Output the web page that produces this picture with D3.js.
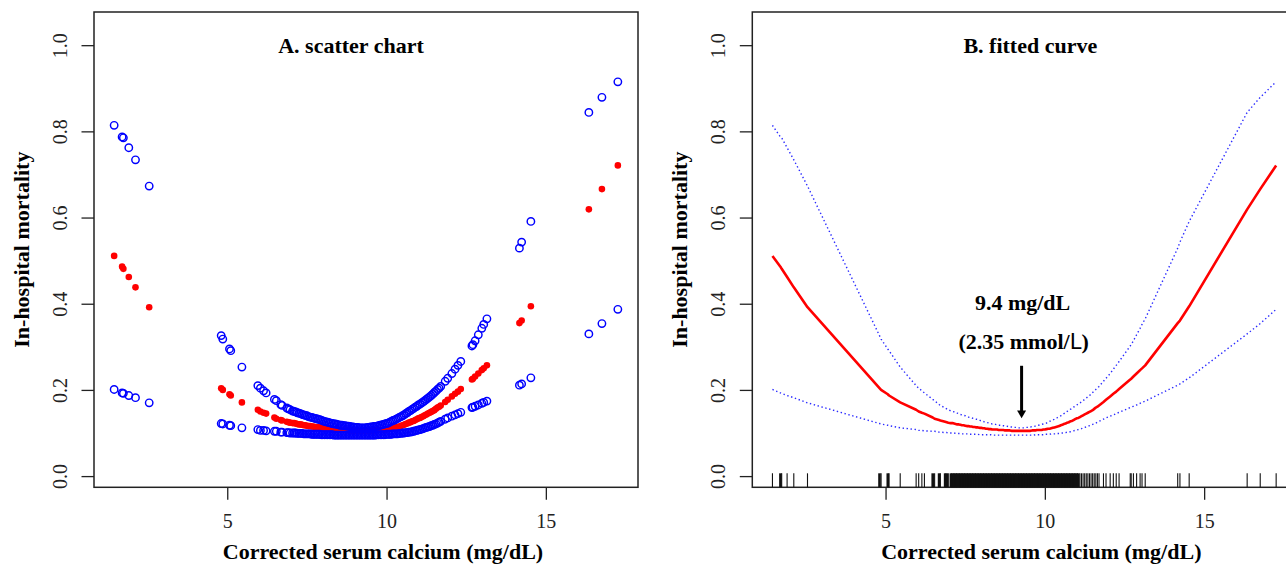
<!DOCTYPE html>
<html>
<head>
<meta charset="utf-8">
<script src="https://cdn.jsdelivr.net/npm/d3@7/dist/d3.min.js"></script>
<style>
body { margin: 0; background: #ffffff; }
svg { display: block; font-family: "Liberation Serif", "Times New Roman", serif; }
</style>
</head>
<body>
<script>

// corrected serum calcium values (mg/dL), one per patient group
// corrected serum calcium values (mg/dL), one per patient group

var calcium = [
    1.45, 1.70, 1.74, 1.91, 2.12, 2.55,
    4.81, 4.86, 5.07, 5.11, 5.46,
    5.96, 6.04, 6.14, 6.22, 6.48, 6.54, 6.68, 6.72, 6.87, 6.92, 6.97, 7.05,
    7.10, 7.15, 7.20, 7.25, 7.30, 7.35, 7.40, 7.45, 7.50, 7.55,
    7.60, 7.65, 7.70, 7.75, 7.80, 7.85, 7.90, 7.95, 8.00, 8.05,
    8.10, 8.15, 8.20, 8.25, 8.30, 8.35, 8.40, 8.45, 8.50, 8.55,
    8.60, 8.65, 8.70, 8.75, 8.80, 8.85, 8.90, 8.95, 9.00, 9.05,
    9.10, 9.15, 9.20, 9.25, 9.30, 9.35, 9.40, 9.45, 9.50, 9.55,
    9.60, 9.65, 9.70, 9.75, 9.80, 9.85, 9.90, 9.95, 10.00, 10.05,
    10.10, 10.15, 10.20, 10.25, 10.30, 10.35, 10.40, 10.45, 10.50, 10.55,
    10.60, 10.65, 10.70, 10.75, 10.80, 10.85, 10.90, 10.95, 11.00, 11.05,
    11.10, 11.15, 11.20, 11.25, 11.30, 11.35, 11.40, 11.45, 11.50, 11.55,
    11.60, 11.65, 11.70,
    11.84, 11.92, 12.05, 12.15, 12.24, 12.33,
    12.68, 12.71, 12.78, 12.88, 12.99, 13.05, 13.15,
    14.17, 14.24, 14.53, 16.35, 16.76, 17.26
];

// predicted in-hospital mortality and its 95% limits
// predicted in-hospital mortality and its 95% limits

var fitted = [
    0.511, 0.486, 0.481, 0.462, 0.438, 0.392,
    0.204, 0.200, 0.190, 0.187, 0.171,
    0.154, 0.150, 0.147, 0.145, 0.136, 0.133, 0.130, 0.129, 0.126, 0.125, 0.124, 0.123,
    0.123, 0.122, 0.121, 0.120, 0.120, 0.119, 0.118, 0.118, 0.117, 0.116,
    0.116, 0.115, 0.115, 0.114, 0.114, 0.113, 0.113, 0.112, 0.112, 0.111,
    0.111, 0.110, 0.110, 0.109, 0.109, 0.108, 0.108, 0.108, 0.108, 0.107,
    0.107, 0.107, 0.107, 0.106, 0.106, 0.106, 0.106, 0.105, 0.105, 0.105,
    0.105, 0.105, 0.105, 0.105, 0.105, 0.105, 0.105, 0.105, 0.105, 0.105,
    0.106, 0.106, 0.106, 0.107, 0.107, 0.107, 0.107, 0.108, 0.108, 0.109,
    0.110, 0.110, 0.111, 0.112, 0.113, 0.114, 0.115, 0.116, 0.118, 0.119,
    0.121, 0.122, 0.124, 0.125, 0.127, 0.128, 0.130, 0.132, 0.134, 0.135,
    0.137, 0.139, 0.141, 0.143, 0.145, 0.147, 0.149, 0.151, 0.153, 0.156,
    0.159, 0.161, 0.164,
    0.172, 0.177, 0.185, 0.191, 0.196, 0.202,
    0.224, 0.226, 0.231, 0.238, 0.246, 0.250, 0.257,
    0.355, 0.361, 0.394, 0.619, 0.666, 0.721
];

var lower = [
    0.201, 0.193, 0.192, 0.187, 0.182, 0.170,
    0.122, 0.121, 0.118, 0.117, 0.112,
    0.108, 0.106, 0.106, 0.105, 0.104, 0.104, 0.102, 0.102, 0.101, 0.101, 0.100, 0.100,
    0.100, 0.100, 0.099, 0.099, 0.099, 0.099, 0.098, 0.098, 0.098, 0.098,
    0.098, 0.097, 0.097, 0.097, 0.097, 0.097, 0.097, 0.096, 0.096, 0.096,
    0.096, 0.096, 0.096, 0.096, 0.096, 0.095, 0.095, 0.095, 0.095, 0.095,
    0.095, 0.095, 0.095, 0.095, 0.095, 0.095, 0.095, 0.095, 0.095, 0.095,
    0.095, 0.095, 0.095, 0.095, 0.095, 0.095, 0.095, 0.095, 0.095, 0.095,
    0.095, 0.095, 0.096, 0.096, 0.096, 0.096, 0.096, 0.096, 0.097, 0.097,
    0.097, 0.097, 0.098, 0.098, 0.098, 0.098, 0.099, 0.099, 0.100, 0.100,
    0.101, 0.101, 0.102, 0.102, 0.103, 0.104, 0.105, 0.106, 0.107, 0.108,
    0.109, 0.110, 0.112, 0.113, 0.114, 0.115, 0.117, 0.118, 0.120, 0.121,
    0.123, 0.125, 0.127,
    0.132, 0.135, 0.139, 0.142, 0.145, 0.148,
    0.159, 0.160, 0.162, 0.165, 0.169, 0.171, 0.174,
    0.211, 0.214, 0.228, 0.330, 0.354, 0.387
];

var upper = [
    0.814, 0.787, 0.785, 0.762, 0.734, 0.673,
    0.326, 0.318, 0.295, 0.291, 0.253,
    0.210, 0.204, 0.198, 0.193, 0.178, 0.175, 0.166, 0.164, 0.158, 0.156, 0.154, 0.151,
    0.150, 0.149, 0.147, 0.146, 0.145, 0.143, 0.142, 0.141, 0.140, 0.138,
    0.137, 0.136, 0.135, 0.134, 0.133, 0.132, 0.131, 0.130, 0.128, 0.127,
    0.126, 0.125, 0.124, 0.123, 0.122, 0.121, 0.121, 0.120, 0.119, 0.118,
    0.118, 0.117, 0.117, 0.116, 0.116, 0.115, 0.114, 0.114, 0.113, 0.113,
    0.113, 0.112, 0.112, 0.112, 0.112, 0.112, 0.113, 0.113, 0.114, 0.114,
    0.115, 0.115, 0.116, 0.117, 0.118, 0.119, 0.120, 0.121, 0.122, 0.123,
    0.125, 0.127, 0.129, 0.130, 0.132, 0.134, 0.136, 0.138, 0.140, 0.142,
    0.145, 0.147, 0.150, 0.152, 0.155, 0.157, 0.160, 0.162, 0.165, 0.167,
    0.170, 0.172, 0.175, 0.178, 0.181, 0.184, 0.187, 0.190, 0.194, 0.197,
    0.201, 0.204, 0.208,
    0.220, 0.227, 0.238, 0.248, 0.257, 0.266,
    0.302, 0.305, 0.314, 0.328, 0.343, 0.352, 0.365,
    0.529, 0.543, 0.591, 0.844, 0.879, 0.915
];

var xTicks = [5, 10, 15];
var yTicks = [0, 0.2, 0.4, 0.6, 0.8, 1.0];

var xLabel = "Corrected serum calcium (mg/dL)",
    yLabel = "In-hospital mortality",
    titleA = "A. scatter chart",
    titleB = "B. fitted curve";

// turning point marked on the fitted curve
var turnX = 9.27, turnLabel = "9.4 mg/dL", turnLabel2 = "(2.35 mmol/";

// layout
// layout

var margin = {top: 12, left: 94},
    width = 544,
    height = 475.3,
    panelShift = 658.3;

var svg = d3.select("body").append("svg")
    .attr("width", 1286)
    .attr("height", 570);

var rows = calcium.map(function(c, i) {
    return {x: c, fit: fitted[i], lo: lower[i], hi: upper[i]};
});

// R style axis range: data range stretched by 4% on each side
var ext = d3.extent(calcium), pad = (ext[1] - ext[0]) * 0.04;

var x = d3.scaleLinear()
    .domain([ext[0] - pad, ext[1] + pad])
    .range([0, width]);
var y = d3.scaleLinear()
    .domain([-0.026, 1.077])
    .range([height, 0]);

function drawFrame(g, title, titleX)
{
    // x axis
    var xa = g.append("g")
        .attr("transform", "translate(0," + height + ")")
        .call(d3.axisBottom(x).tickValues(xTicks).tickSize(12.5).tickFormat(d3.format("d")));
    xa.select(".domain").remove();
    xa.attr("font-family", null).attr("font-size", null);
    xa.selectAll("line").attr("stroke", "#222").attr("stroke-width", 1.3);
    xa.selectAll("text")
        .attr("y", 40.5)
        .attr("dy", 0)
        .attr("fill", "#222")
        .style("font-size", "20px");

    // y axis, labels turned along the axis
    var ya = g.append("g")
        .call(d3.axisLeft(y).tickValues(yTicks).tickSize(12.5).tickFormat(d3.format(".1f")));
    ya.select(".domain").remove();
    ya.attr("font-family", null).attr("font-size", null);
    ya.selectAll("line").attr("stroke", "#222").attr("stroke-width", 1.3);
    ya.selectAll("text")
        .attr("x", 0)
        .attr("dy", 0)
        .attr("transform", "translate(-27.5,0) rotate(-90)")
        .attr("text-anchor", "middle")
        .attr("fill", "#222")
        .style("font-size", "20px");

    // box
    g.append("rect")
        .attr("width", width)
        .attr("height", height)
        .attr("fill", "none")
        .attr("stroke", "#222")
        .attr("stroke-width", 1.5);

    g.append("text")
        .attr("x", 289)
        .attr("y", height + 72)
        .attr("text-anchor", "middle")
        .style("font-size", "22px")
        .style("font-weight", "bold")
        .text(xLabel);

    g.append("text")
        .attr("transform", "translate(-65," + (height / 2) + ") rotate(-90)")
        .attr("text-anchor", "middle")
        .style("font-size", "22px")
        .style("font-weight", "bold")
        .text(yLabel);

    g.append("text")
        .attr("x", titleX)
        .attr("y", 41)
        .attr("text-anchor", "middle")
        .style("font-size", "22px")
        .style("font-weight", "bold")
        .text(title);
}

// PANEL A: scatter of predicted values
// PANEL A: scatter of predicted values

var gA = svg.append("g")
    .attr("transform", "translate(" + margin.left + "," + margin.top + ")");

drawFrame(gA, titleA, 257);

gA.selectAll("circle.fit")
    .data(rows)
    .enter().append("circle")
    .attr("class", "fit")
    .attr("cx", function(d) { return x(d.x); })
    .attr("cy", function(d) { return y(d.fit); })
    .attr("r", 3.3)
    .attr("fill", "#ff0000");

["hi", "lo"].forEach(function(key)
{
    gA.selectAll("circle." + key)
        .data(rows)
        .enter().append("circle")
        .attr("class", key)
        .attr("cx", function(d) { return x(d.x); })
        .attr("cy", function(d) { return y(d[key]); })
        .attr("r", 3.7)
        .attr("fill", "none")
        .attr("stroke", "#0000ff")
        .attr("stroke-width", 1.45);
});

// PANEL B: fitted curve with limits and rug
// PANEL B: fitted curve with limits and rug

var gB = svg.append("g")
    .attr("transform", "translate(" + (margin.left + panelShift) + "," + margin.top + ")");

drawFrame(gB, titleB, 278);

// ticks that sit close together are widened so the crowded part reads as solid
gB.selectAll("line.rug")
    .data(calcium)
    .enter().append("line")
    .attr("class", "rug")
    .attr("x1", function(d) { return x(d); })
    .attr("x2", function(d) { return x(d); })
    .attr("y1", height)
    .attr("y2", height - 14)
    .attr("stroke", "#111")
    .attr("stroke-width", function(d, i) {
        var next = calcium[i + 1];
        return (next !== undefined && next - d < 0.06 && d < 11.1) ? 2.6 : 1.1;
    });

function curve(key)
{
    return d3.line()
        .x(function(d) { return x(d.x); })
        .y(function(d) { return y(d[key]); });
}

["hi", "lo"].forEach(function(key)
{
    gB.append("path")
        .datum(rows)
        .attr("d", curve(key))
        .attr("fill", "none")
        .attr("stroke", "#2a2aff")
        .attr("stroke-width", 1.4)
        .attr("stroke-dasharray", "1.4,2.6");
});

gB.append("path")
    .datum(rows)
    .attr("d", curve("fit"))
    .attr("fill", "none")
    .attr("stroke", "#ff0000")
    .attr("stroke-width", 2.6)
    .attr("stroke-linejoin", "round");

// annotation with arrow at the lowest point
// annotation with arrow at the lowest point

var ax = x(turnX);

gB.append("line")
    .attr("x1", ax).attr("x2", ax)
    .attr("y1", y(0.256)).attr("y2", y(0.150))
    .attr("stroke", "#000")
    .attr("stroke-width", 3);

gB.append("path")
    .attr("d", "M" + (ax - 4.5) + "," + y(0.152) + "L" + (ax + 4.5) + "," + y(0.152) + "L" + ax + "," + y(0.134) + "Z")
    .attr("fill", "#000");

gB.append("text")
    .attr("x", ax + 1)
    .attr("y", y(0.386))
    .attr("text-anchor", "middle")
    .style("font-size", "22px")
    .style("font-weight", "bold")
    .text(turnLabel);

var t2 = gB.append("text")
    .attr("x", ax + 2)
    .attr("y", y(0.295))
    .attr("text-anchor", "middle")
    .style("font-size", "22px")
    .style("font-weight", "bold");
t2.append("tspan").text(turnLabel2);
t2.append("tspan")
    .style("font-family", "'DejaVu Sans', sans-serif")
    .style("font-weight", "normal")
    .style("font-size", "21px")
    .text("L");
t2.append("tspan").text(")");

</script>
</body>
</html>
